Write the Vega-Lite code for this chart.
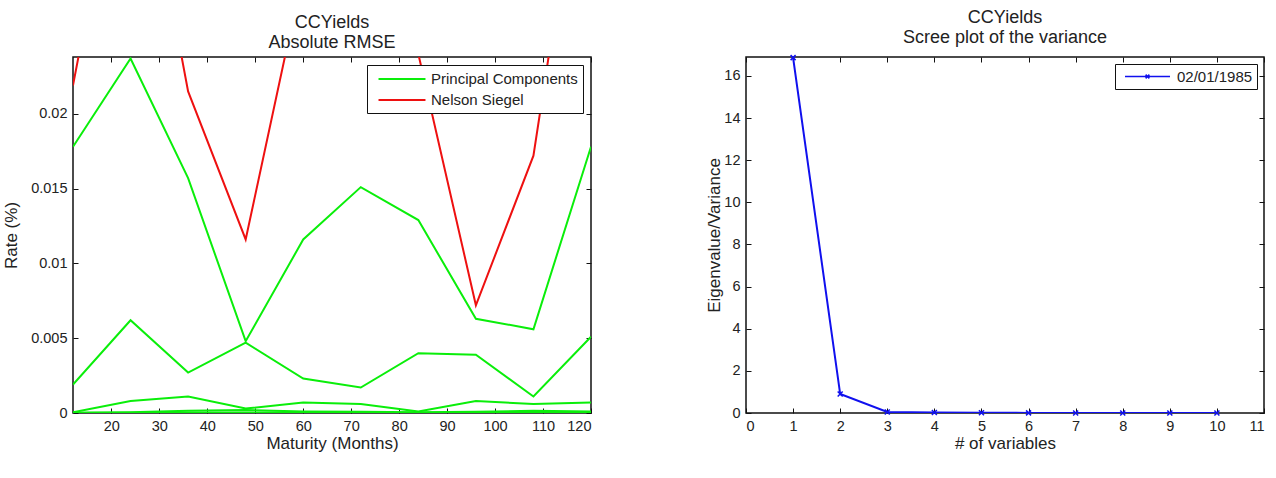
{
  "$schema": "https://vega.github.io/schema/vega-lite/v6.json",
  "background": "white",
  "padding": {"left": 1, "top": 8, "right": 2, "bottom": 2},
  "bounds": "flush",
  "spacing": 155,
  "config": {
    "font": "Liberation Sans",
    "view": {"stroke": "#111", "strokeWidth": 1.5},
    "axis": {
      "grid": false,
      "domain": false,
      "tickColor": "#111",
      "tickSize": -5,
      "tickWidth": 1,
      "labelFont": "Liberation Sans",
      "labelFontSize": 14.5,
      "labelColor": "#222",
      "labelPadding": 11,
      "titleFont": "Liberation Sans",
      "titleFontSize": 17,
      "titleFontWeight": "normal",
      "titleColor": "#222"
    },
    "title": {
      "font": "Liberation Sans",
      "fontSize": 18,
      "fontWeight": "normal",
      "color": "#222",
      "lineHeight": 20,
      "offset": 5,
      "anchor": "middle"
    }
  },
  "datasets": {
    "pc": [
      {"method": "Principal Components", "factors": 1, "maturity": 12, "rmse": 0.0178},
      {"method": "Principal Components", "factors": 1, "maturity": 24, "rmse": 0.0237},
      {"method": "Principal Components", "factors": 1, "maturity": 36, "rmse": 0.0157},
      {"method": "Principal Components", "factors": 1, "maturity": 48, "rmse": 0.0048},
      {"method": "Principal Components", "factors": 1, "maturity": 60, "rmse": 0.0116},
      {"method": "Principal Components", "factors": 1, "maturity": 72, "rmse": 0.0151},
      {"method": "Principal Components", "factors": 1, "maturity": 84, "rmse": 0.0129},
      {"method": "Principal Components", "factors": 1, "maturity": 96, "rmse": 0.0063},
      {"method": "Principal Components", "factors": 1, "maturity": 108, "rmse": 0.0056},
      {"method": "Principal Components", "factors": 1, "maturity": 120, "rmse": 0.0178},
      {"method": "Principal Components", "factors": 2, "maturity": 12, "rmse": 0.0019},
      {"method": "Principal Components", "factors": 2, "maturity": 24, "rmse": 0.0062},
      {"method": "Principal Components", "factors": 2, "maturity": 36, "rmse": 0.0027},
      {"method": "Principal Components", "factors": 2, "maturity": 48, "rmse": 0.0047},
      {"method": "Principal Components", "factors": 2, "maturity": 60, "rmse": 0.0023},
      {"method": "Principal Components", "factors": 2, "maturity": 72, "rmse": 0.0017},
      {"method": "Principal Components", "factors": 2, "maturity": 84, "rmse": 0.0040},
      {"method": "Principal Components", "factors": 2, "maturity": 96, "rmse": 0.0039},
      {"method": "Principal Components", "factors": 2, "maturity": 108, "rmse": 0.0011},
      {"method": "Principal Components", "factors": 2, "maturity": 120, "rmse": 0.0051},
      {"method": "Principal Components", "factors": 3, "maturity": 12, "rmse": 0.00005},
      {"method": "Principal Components", "factors": 3, "maturity": 24, "rmse": 0.0008},
      {"method": "Principal Components", "factors": 3, "maturity": 36, "rmse": 0.0011},
      {"method": "Principal Components", "factors": 3, "maturity": 48, "rmse": 0.0003},
      {"method": "Principal Components", "factors": 3, "maturity": 60, "rmse": 0.0007},
      {"method": "Principal Components", "factors": 3, "maturity": 72, "rmse": 0.0006},
      {"method": "Principal Components", "factors": 3, "maturity": 84, "rmse": 0.0001},
      {"method": "Principal Components", "factors": 3, "maturity": 96, "rmse": 0.0008},
      {"method": "Principal Components", "factors": 3, "maturity": 108, "rmse": 0.0006},
      {"method": "Principal Components", "factors": 3, "maturity": 120, "rmse": 0.0007},
      {"method": "Principal Components", "factors": 4, "maturity": 12, "rmse": 0.00002},
      {"method": "Principal Components", "factors": 4, "maturity": 24, "rmse": 0.00005},
      {"method": "Principal Components", "factors": 4, "maturity": 36, "rmse": 0.00015},
      {"method": "Principal Components", "factors": 4, "maturity": 48, "rmse": 0.0002},
      {"method": "Principal Components", "factors": 4, "maturity": 60, "rmse": 0.0001},
      {"method": "Principal Components", "factors": 4, "maturity": 72, "rmse": 0.00008},
      {"method": "Principal Components", "factors": 4, "maturity": 84, "rmse": 0.00005},
      {"method": "Principal Components", "factors": 4, "maturity": 96, "rmse": 0.00008},
      {"method": "Principal Components", "factors": 4, "maturity": 108, "rmse": 0.00015},
      {"method": "Principal Components", "factors": 4, "maturity": 120, "rmse": 0.0001},
      {"method": "Principal Components", "factors": 5, "maturity": 12, "rmse": 0.00001},
      {"method": "Principal Components", "factors": 5, "maturity": 24, "rmse": 0.00002},
      {"method": "Principal Components", "factors": 5, "maturity": 36, "rmse": 0.00003},
      {"method": "Principal Components", "factors": 5, "maturity": 48, "rmse": 0.00004},
      {"method": "Principal Components", "factors": 5, "maturity": 60, "rmse": 0.00003},
      {"method": "Principal Components", "factors": 5, "maturity": 72, "rmse": 0.00002},
      {"method": "Principal Components", "factors": 5, "maturity": 84, "rmse": 0.00002},
      {"method": "Principal Components", "factors": 5, "maturity": 96, "rmse": 0.00003},
      {"method": "Principal Components", "factors": 5, "maturity": 108, "rmse": 0.00004},
      {"method": "Principal Components", "factors": 5, "maturity": 120, "rmse": 0.00003}
    ],
    "ns": [
      {"method": "Nelson Siegel", "maturity": 12, "rmse": 0.0219},
      {"method": "Nelson Siegel", "maturity": 24, "rmse": 0.042},
      {"method": "Nelson Siegel", "maturity": 36, "rmse": 0.0215},
      {"method": "Nelson Siegel", "maturity": 48, "rmse": 0.0116},
      {"method": "Nelson Siegel", "maturity": 60, "rmse": 0.0295},
      {"method": "Nelson Siegel", "maturity": 72, "rmse": 0.035},
      {"method": "Nelson Siegel", "maturity": 84, "rmse": 0.024},
      {"method": "Nelson Siegel", "maturity": 96, "rmse": 0.0072},
      {"method": "Nelson Siegel", "maturity": 108, "rmse": 0.0172},
      {"method": "Nelson Siegel", "maturity": 120, "rmse": 0.0423}
    ],
    "scree": [
      {"date": "02/01/1985", "component": 1, "eigenvalue": 16.87},
      {"date": "02/01/1985", "component": 2, "eigenvalue": 0.9},
      {"date": "02/01/1985", "component": 3, "eigenvalue": 0.05},
      {"date": "02/01/1985", "component": 4, "eigenvalue": 0.02},
      {"date": "02/01/1985", "component": 5, "eigenvalue": 0.01},
      {"date": "02/01/1985", "component": 6, "eigenvalue": 0.005},
      {"date": "02/01/1985", "component": 7, "eigenvalue": 0.003},
      {"date": "02/01/1985", "component": 8, "eigenvalue": 0.002},
      {"date": "02/01/1985", "component": 9, "eigenvalue": 0.001},
      {"date": "02/01/1985", "component": 10, "eigenvalue": 0.001}
    ]
  },
  "hconcat": [
    {
      "width": 518,
      "height": 356,
      "title": {"text": ["CCYields", "Absolute RMSE"]},
      "layer": [
        {
          "data": {"name": "pc"},
          "mark": {"type": "line", "clip": true, "strokeWidth": 2},
          "encoding": {
            "x": {
              "field": "maturity", "type": "quantitative",
              "scale": {"domain": [12, 120], "nice": false, "zero": false},
              "axis": {"orient": "bottom", "title": "Maturity (Months)", "values": [20, 30, 40, 50, 60, 70, 80, 90, 100, 110, 120], "titlePadding": 3}
            },
            "y": {
              "field": "rmse", "type": "quantitative",
              "scale": {"domain": [0, 0.0238], "nice": false},
              "axis": {"orient": "left", "title": "Rate (%)", "values": [0, 0.005, 0.01, 0.015, 0.02], "format": "~g", "titlePadding": 10}
            },
            "color": {
              "field": "method", "type": "nominal",
              "scale": {"domain": ["Principal Components", "Nelson Siegel"], "range": ["#0aee0a", "#ee1010"]},
              "legend": {
                "title": null, "orient": "top-right", "offset": 8, "padding": 5,
                "strokeColor": "#111", "fillColor": "white",
                "symbolType": "M-3,0H3", "symbolSize": 245, "symbolStrokeWidth": 2,
                "symbolOffset": 21, "labelOffset": 20,
                "labelFontSize": 15, "labelColor": "#222", "rowPadding": 4
              }
            },
            "detail": {"field": "factors"}
          }
        },
        {
          "data": {"name": "ns"},
          "mark": {"type": "line", "clip": true, "strokeWidth": 2},
          "encoding": {
            "x": {
              "field": "maturity", "type": "quantitative",
              "scale": {"domain": [12, 120], "nice": false, "zero": false},
              "axis": {"orient": "top", "title": null, "labels": false, "values": [20, 30, 40, 50, 60, 70, 80, 90, 100, 110, 120]}
            },
            "y": {
              "field": "rmse", "type": "quantitative",
              "scale": {"domain": [0, 0.0238], "nice": false},
              "axis": {"orient": "right", "title": null, "labels": false, "values": [0, 0.005, 0.01, 0.015, 0.02]}
            },
            "color": {
              "field": "method", "type": "nominal",
              "scale": {"domain": ["Principal Components", "Nelson Siegel"], "range": ["#0aee0a", "#ee1010"]}
            }
          }
        }
      ],
      "resolve": {"axis": {"x": "independent", "y": "independent"}}
    },
    {
      "width": 518,
      "height": 356,
      "title": {"text": ["CCYields", "Scree plot of the variance"]},
      "data": {"name": "scree"},
      "layer": [
        {
          "mark": {"type": "line", "clip": true, "strokeWidth": 2},
          "encoding": {
            "x": {
              "field": "component", "type": "quantitative",
              "scale": {"domain": [0, 11], "nice": false},
              "axis": {"orient": "bottom", "title": "# of variables", "values": [0, 1, 2, 3, 4, 5, 6, 7, 8, 9, 10, 11], "titlePadding": 3}
            },
            "y": {
              "field": "eigenvalue", "type": "quantitative",
              "scale": {"domain": [0, 16.9], "nice": false},
              "axis": {"orient": "left", "title": "Eigenvalue/Variance", "values": [0, 2, 4, 6, 8, 10, 12, 14, 16], "titlePadding": 0}
            },
            "color": {
              "field": "date", "type": "nominal",
              "scale": {"range": ["#1010ee"]},
              "legend": {
                "title": null, "orient": "top-right", "offset": 7, "padding": 4,
                "strokeColor": "#111", "fillColor": "white",
                "symbolType": "M-3,0H3M-0.25,-0.25L0.25,0.25M-0.25,0.25L0.25,-0.25", "symbolSize": 225, "symbolStrokeWidth": 1.5,
                "symbolOffset": 20, "labelOffset": 21,
                "labelFontSize": 15, "labelColor": "#222"
              }
            }
          }
        },
        {
          "mark": {"type": "point", "shape": "M-1,-1L1,1M-1,1L1,-1", "filled": false, "size": 25, "strokeWidth": 1.5, "opacity": 1},
          "encoding": {
            "x": {
              "field": "component", "type": "quantitative",
              "scale": {"domain": [0, 11], "nice": false},
              "axis": {"orient": "top", "title": null, "labels": false, "values": [0, 1, 2, 3, 4, 5, 6, 7, 8, 9, 10, 11]}
            },
            "y": {
              "field": "eigenvalue", "type": "quantitative",
              "scale": {"domain": [0, 16.9], "nice": false},
              "axis": {"orient": "right", "title": null, "labels": false, "values": [0, 2, 4, 6, 8, 10, 12, 14, 16]}
            },
            "color": {"field": "date", "type": "nominal", "scale": {"range": ["#1010ee"]}}
          }
        }
      ],
      "resolve": {"axis": {"x": "independent", "y": "independent"}}
    }
  ],
  "resolve": {"scale": {"color": "independent"}, "legend": {"color": "independent"}}
}
